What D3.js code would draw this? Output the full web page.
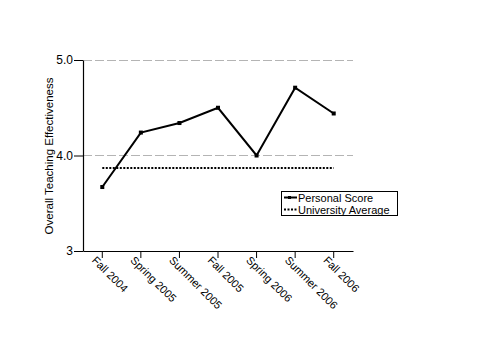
<!DOCTYPE html>
<html><head><meta charset="utf-8">
<script src="https://cdn.jsdelivr.net/npm/d3@7"></script>
<style>
body{margin:0;background:#fff;}
text{font-family:"Liberation Sans",Arial,sans-serif;}
</style></head>
<body><svg id="c" width="480" height="360"></svg>
<script>
const categories = ["Fall 2004","Spring 2005","Summer 2005","Fall 2005","Spring 2006","Summer 2006","Fall 2006"];
const personalScore = [3.67, 4.24, 4.34, 4.50, 4.00, 4.71, 4.44];
const universityAverage = [3.87, 3.87, 3.87, 3.87, 3.87, 3.87, 3.87];
const yTicks = [3, 4, 5];
const yTickLabels = ["3", "4.0", "5.0"];
const gridValues = [4, 5];
const seriesNames = ["Personal Score", "University Average"];
const yTitle = "Overall Teaching Effectiveness";

const svg = d3.select("#c");
const x = d3.scaleBand().domain(categories).range([83, 353]);
const y = d3.scaleLinear().domain([3, 5]).range([251, 60]);
const cx = d => x(d) + x.bandwidth() / 2;

// grid
svg.append("g").selectAll("line").data(gridValues).join("line")
  .attr("x1", 83).attr("x2", 353)
  .attr("y1", d => y(d)).attr("y2", d => y(d))
  .attr("stroke", "#b4b4b4").attr("stroke-width", 1)
  .attr("stroke-dasharray", "9,3")
  .attr("shape-rendering", "crispEdges");

// y axis
const ya = svg.append("g").attr("transform", "translate(83,0)")
  .call(d3.axisLeft(y).tickValues(yTicks).tickFormat((d, i) => yTickLabels[i]).tickSize(9).tickSizeOuter(0).tickPadding(1));
ya.select(".domain").attr("stroke", "#000").attr("stroke-width", 1.2);
ya.selectAll(".tick line").attr("stroke", "#000");
ya.selectAll("text").attr("font-size", 12).attr("fill", "#000").attr("font-family", "Liberation Sans, Arial, sans-serif");

// x axis
const xa = svg.append("g").attr("transform", "translate(0,251)")
  .call(d3.axisBottom(x).tickSize(7).tickSizeOuter(0));
xa.select(".domain").attr("stroke", "#000").attr("stroke-width", 1.2);
xa.selectAll(".tick line").attr("stroke", "#000");
xa.selectAll("text")
  .attr("font-size", 11).attr("fill", "#000").attr("font-family", "Liberation Sans, Arial, sans-serif")
  .attr("text-anchor", "start").attr("dy", null).attr("y", 0)
  .attr("transform", "translate(-11,10) rotate(45)");

// y title
svg.append("text").attr("transform", "translate(53,156) rotate(-90)")
  .attr("text-anchor", "middle").attr("font-size", 11.5).text(yTitle);

// university average
svg.append("path").datum(universityAverage)
  .attr("d", d3.line().x((d, i) => cx(categories[i])).y(d => y(d)))
  .attr("fill", "none").attr("stroke", "#000").attr("stroke-width", 2)
  .attr("stroke-dasharray", "2,1.5");

// personal score
svg.append("path").datum(personalScore)
  .attr("d", d3.line().x((d, i) => cx(categories[i])).y(d => y(d)))
  .attr("fill", "none").attr("stroke", "#000").attr("stroke-width", 2)
  .attr("stroke-linejoin", "miter");
svg.append("g").selectAll("rect").data(personalScore).join("rect")
  .attr("x", (d, i) => cx(categories[i]) - 2).attr("y", d => y(d) - 2)
  .attr("width", 4).attr("height", 4).attr("fill", "#000");

// legend
const lg = svg.append("g");
lg.append("rect").attr("x", 281.5).attr("y", 191.5).attr("width", 116).attr("height", 24)
  .attr("fill", "#fff").attr("stroke", "#000").attr("stroke-width", 1);
lg.append("line").attr("x1", 284).attr("x2", 297).attr("y1", 197.5).attr("y2", 197.5)
  .attr("stroke", "#000").attr("stroke-width", 2);
lg.append("rect").attr("x", 288).attr("y", 196).attr("width", 3).attr("height", 3).attr("fill", "#000");
lg.append("line").attr("x1", 284).attr("x2", 297).attr("y1", 209.5).attr("y2", 209.5)
  .attr("stroke", "#000").attr("stroke-width", 2).attr("stroke-dasharray", "2,1.5");
lg.append("text").attr("x", 298).attr("y", 201.5).attr("font-size", 11).text(seriesNames[0]);
lg.append("text").attr("x", 298).attr("y", 213.5).attr("font-size", 11).text(seriesNames[1]);
</script></body></html>
